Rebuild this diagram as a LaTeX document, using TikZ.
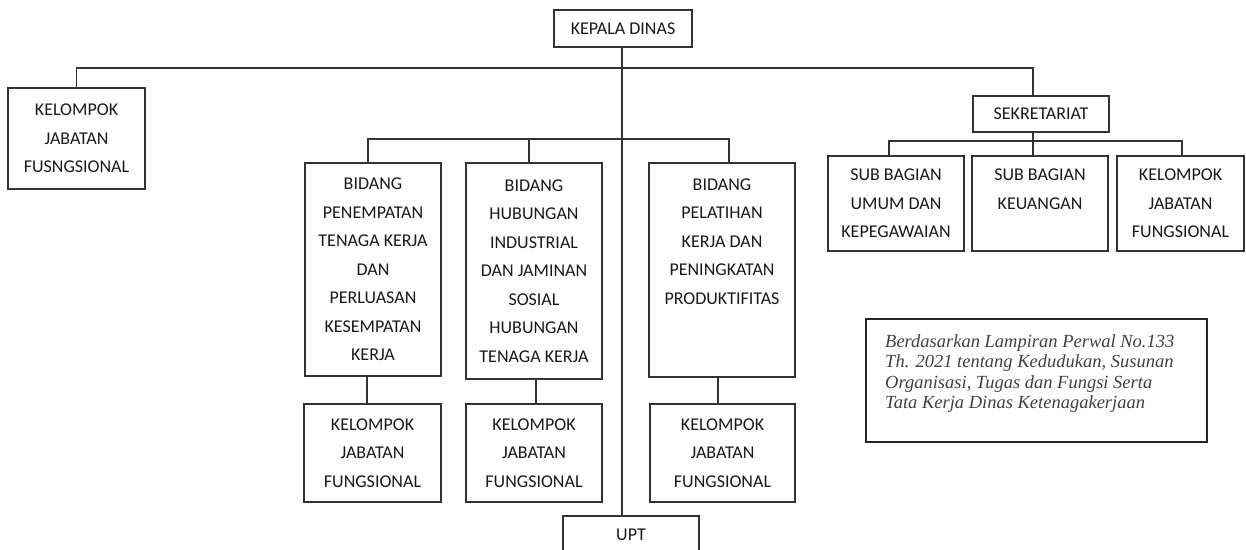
\documentclass[tikz,border=0pt]{standalone}
\usepackage{fontspec}
\setmainfont{Carlito}
\newfontfamily\notefont{Liberation Serif}
\usetikzlibrary{calc}
\tikzset{
  box/.style={draw=black!80, line width=1.2pt, rectangle, inner sep=0pt, align=center,
    font=\fontsize{18}{28.5}\selectfont, text=black!90},
  conn/.style={draw=black!80, line width=1.2pt},
  notebox/.style={draw=black!85, line width=2pt, rectangle, inner sep=0pt},
  notetext/.style={inner sep=0pt, align=left, text=black!75,
    font=\notefont\itshape\fontsize{18.5}{20.5}\selectfont},
}
\begin{document}
\begin{tikzpicture}[x=1pt,y=-1pt]
\useasboundingbox (0,0) rectangle (1246,549);
\clip (0,0) rectangle (1246,549);
% nodes
\node[box, minimum width=138pt, minimum height=37pt] (kd) at (623,28.5) {KEPALA DINAS};
\node[box, minimum width=137pt, minimum height=101pt] (kjf) at (76.5,138.5) {KELOMPOK\\JABATAN\\FUSNGSIONAL};
\node[box, minimum width=136pt, minimum height=36pt] (sek) at (1041,114) {SEKRETARIAT};
\node[box, minimum width=136pt, minimum height=213pt] (b1) at (373,269.5) {BIDANG\\PENEMPATAN\\TENAGA KERJA\\DAN\\PERLUASAN\\KESEMPATAN\\KERJA};
\node[box, minimum width=136pt, minimum height=216pt] (b2) at (534,271) {BIDANG\\HUBUNGAN\\INDUSTRIAL\\DAN JAMINAN\\SOSIAL\\HUBUNGAN\\TENAGA KERJA};
\node[box, minimum width=146pt, minimum height=214pt] (b3) at (722,270) {BIDANG\\PELATIHAN\\KERJA DAN\\PENINGKATAN\\PRODUKTIFITAS\\~\\~};
\node[box, minimum width=137pt, minimum height=98pt] (k1) at (372.5,453) {KELOMPOK\\JABATAN\\FUNGSIONAL};
\node[box, minimum width=136pt, minimum height=98pt] (k2) at (534,453) {KELOMPOK\\JABATAN\\FUNGSIONAL};
\node[box, minimum width=145pt, minimum height=98pt] (k3) at (722.5,453) {KELOMPOK\\JABATAN\\FUNGSIONAL};
\node[box, minimum width=136pt, minimum height=95pt] (s1) at (896,203.5) {SUB BAGIAN\\UMUM DAN\\KEPEGAWAIAN};
\node[box, minimum width=136pt, minimum height=95pt] (s2) at (1040,203.5) {SUB BAGIAN\\KEUANGAN\\~};
\node[box, minimum width=127pt, minimum height=95pt] (s3) at (1180.5,203.5) {KELOMPOK\\JABATAN\\FUNGSIONAL};
\node[box, minimum width=136pt, minimum height=37pt] (upt) at (631,534.5) {UPT};
\node[notebox, minimum width=341pt, minimum height=123pt] (note) at (1036.5,380.5) {};
\node[notetext, anchor=north west] (notetxt) at (885,334) {Berdasarkan Lampiran Perwal No.133\\Th. 2021 tentang Kedudukan, Susunan\\Organisasi, Tugas dan Fungsi Serta\\Tata Kerja Dinas Ketenagakerjaan};
% coordinates
\coordinate (tl) at (622,68);
\coordinate (sbar) at (1033,141);
\coordinate (bbar) at (622,139);
% connectors
\draw[conn] ($(kd.south)+(-1,0)$) -- ($(kd.south |- upt.north)+(-1,0)$);
\draw[conn] (kjf.north) |- (tl) -| ($(sek.north)+(-8,0)$);
\draw[conn] ($(sek.south)+(-8,0)$) -- ($(s2.north)+(-7,0)$);
\draw[conn] ($(s1.north)+(-7,0)$) |- (sbar) -| ($(s3.north)+(1.5,0)$);
\draw[conn] ($(b1.north)+(-5,0)$) |- (bbar) -| ($(b3.north)+(7,0)$);
\draw[conn] ($(b2.north)+(-5,0)$) |- (bbar);
\draw[conn] ($(b1.south)+(-6,0)$) -- ($(k1.north)+(-5.5,0)$);
\draw[conn] ($(b2.south)+(2,0)$) -- ($(k2.north)+(2,0)$);
\draw[conn] ($(b3.south)+(-4,0)$) -- ($(k3.north)+(-4.5,0)$);
\end{tikzpicture}
\end{document}
